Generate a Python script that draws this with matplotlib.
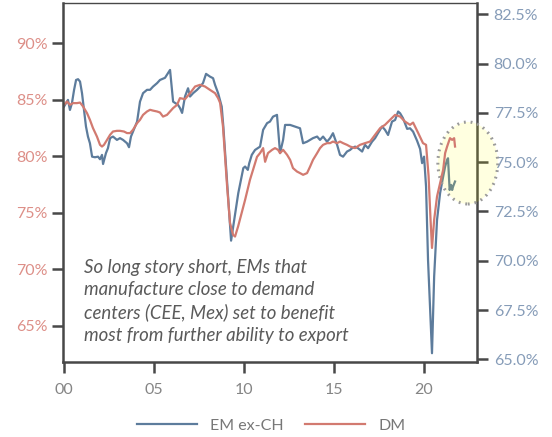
import matplotlib
matplotlib.use("Agg")
import matplotlib.pyplot as plt
from matplotlib.patches import Ellipse

plt.rcParams["font.family"] = ["Lato", "DejaVu Sans"]

# Capacity utilisation, % (time in years since 2000)
dm_t = [0.00, 0.17, 0.33, 0.50, 0.72, 0.89, 1.06, 1.28, 1.44, 1.61, 1.83, 2.00,
        2.11, 2.22, 2.39, 2.56, 2.72, 2.94, 3.11, 3.33, 3.50, 3.67, 3.83, 4.06,
        4.22, 4.39, 4.61, 4.78, 4.94, 5.17, 5.33, 5.50, 5.72, 5.89, 6.06, 6.28,
        6.44, 6.72, 7.00, 7.28, 7.56, 7.83, 8.11, 8.39, 8.56, 8.67, 8.83, 9.06,
        9.22, 9.39, 9.50, 9.67, 10.06, 10.33, 10.50, 10.72, 10.89, 11.06, 11.17,
        11.33, 11.56, 11.72, 11.89, 12.00, 12.17, 12.39, 12.56, 12.72, 12.94,
        13.11, 13.28, 13.50, 13.67, 13.83, 14.06, 14.22, 14.39, 14.61, 14.78,
        14.94, 15.17, 15.33, 15.50, 15.72, 15.89, 16.17, 16.44, 16.72, 17.00,
        17.28, 17.56, 17.83, 18.11, 18.39, 18.67, 18.94, 19.22, 19.39, 19.67,
        19.94, 20.11, 20.25, 20.36, 20.44, 20.56, 20.72, 20.89, 21.06, 21.17,
        21.28, 21.44, 21.56, 21.67, 21.72]
dm_val = [84.56, 84.85, 84.56, 84.71, 84.71, 84.76, 84.41, 83.82, 83.23, 82.50,
          81.75, 81.02, 80.87, 81.02, 81.46, 81.91, 82.20, 82.26, 82.26, 82.20,
          82.06, 82.06, 82.35, 82.94, 83.23, 83.67, 83.97, 84.12, 84.05, 83.97,
          83.88, 83.52, 83.67, 83.97, 84.27, 84.56, 85.15, 85.06, 85.59, 86.18,
          86.33, 86.18, 85.88, 85.59, 85.15, 84.73, 82.64, 77.33, 74.12, 73.06,
          72.91, 73.80, 76.16, 77.93, 78.81, 79.96, 80.29, 80.73, 79.52, 80.29,
          80.58, 80.73, 80.58, 80.29, 80.58, 80.14, 79.69, 78.96, 78.66, 78.52,
          78.37, 78.52, 79.10, 79.69, 80.29, 80.73, 81.02, 81.17, 81.17, 81.31,
          81.17, 81.31, 81.17, 81.02, 80.87, 80.73, 81.02, 81.17, 81.31, 81.91,
          82.50, 82.79, 83.23, 83.67, 83.52, 83.08, 82.79, 82.99, 82.08, 81.17,
          81.02, 78.28, 74.39, 71.90, 74.39, 76.45, 77.63, 78.81, 80.29, 80.87,
          81.61, 81.46, 81.61, 80.87]

em_t = [0.00, 0.11, 0.22, 0.33, 0.44, 0.56, 0.67, 0.78, 0.89, 1.00, 1.11, 1.22,
        1.33, 1.44, 1.56, 1.72, 1.89, 2.00, 2.11, 2.17, 2.33, 2.44, 2.56, 2.72,
        2.94, 3.11, 3.28, 3.50, 3.61, 3.72, 3.83, 4.06, 4.22, 4.39, 4.61, 4.78,
        4.94, 5.17, 5.33, 5.61, 5.89, 6.06, 6.33, 6.44, 6.56, 6.72, 6.89, 7.00,
        7.17, 7.39, 7.56, 7.72, 7.89, 8.11, 8.28, 8.39, 8.56, 8.76, 8.85, 9.28,
        9.68, 9.96, 10.06, 10.21, 10.29, 10.43, 10.61, 10.89, 11.06, 11.28,
        11.44, 11.61, 11.83, 12.00, 12.17, 12.28, 12.56, 12.94, 13.11, 13.28,
        13.50, 13.67, 13.83, 14.06, 14.22, 14.39, 14.61, 14.78, 14.94, 15.17,
        15.33, 15.50, 15.72, 15.89, 16.00, 16.17, 16.33, 16.56, 16.72, 16.89,
        17.11, 17.28, 17.44, 17.67, 17.83, 18.00, 18.22, 18.39, 18.56, 18.67,
        18.83, 19.06, 19.22, 19.39, 19.61, 19.78, 19.89, 20.00, 20.11, 20.22,
        20.44, 20.56, 20.72, 20.89, 21.06, 21.17, 21.28, 21.33, 21.42, 21.50,
        21.56, 21.61, 21.72]
em_val = [77.82, 77.99, 78.16, 77.65, 77.99, 78.67, 79.17, 79.21, 79.09, 78.50,
          77.65, 76.81, 76.30, 75.96, 75.28, 75.25, 75.28, 75.15, 75.37, 74.91,
          75.46, 75.71, 76.22, 76.30, 76.13, 76.22, 76.13, 75.96, 75.76, 76.30,
          76.55, 77.06, 78.07, 78.50, 78.67, 78.67, 78.83, 79.01, 79.17, 79.28,
          79.68, 78.07, 77.91, 77.75, 77.50, 78.33, 78.75, 78.33, 78.50, 78.67,
          78.83, 79.01, 79.48, 79.34, 79.26, 78.92, 78.50, 77.82, 76.81, 71.02,
          73.43, 74.70, 74.78, 74.61, 74.95, 75.37, 75.62, 75.79, 76.64, 76.98,
          77.06, 77.31, 77.40, 75.46, 76.13, 76.89, 76.89, 76.77, 76.72, 75.96,
          76.04, 76.13, 76.22, 76.30, 76.13, 76.30, 76.04, 76.22, 76.47, 75.88,
          75.37, 75.28, 75.54, 75.62, 75.71, 75.79, 75.71, 75.54, 75.88, 75.71,
          76.04, 76.22, 76.47, 76.81, 76.64, 76.38, 77.06, 77.14, 77.57, 77.48,
          77.23, 76.69, 76.72, 76.55, 76.09, 75.67, 74.95, 75.28, 73.76, 70.04,
          65.31, 69.20, 72.07, 73.43, 74.27, 74.78, 75.12, 75.20, 73.59, 73.85,
          73.59, 73.76, 74.02]

x_ticks = [0, 5, 10, 15, 20]
x_labels = ["00", "05", "10", "15", "20"]
left_ticks = [65, 70, 75, 80, 85, 90]
right_ticks = [65.0, 67.5, 70.0, 72.5, 75.0, 77.5, 80.0, 82.5]

BLUE = "#5d7c9c"
RED = "#d27a70"
SPINE = "#484848"

fig = plt.figure(figsize=(5.52, 4.37), dpi=100)
ax = fig.add_axes([63 / 552, 1 - 361.7 / 437, 414 / 552, 359.2 / 437])
ax2 = ax.twinx()
ax.set_zorder(ax2.get_zorder() + 1)
ax.patch.set_visible(False)

ax2.plot(em_t, em_val, color=BLUE, lw=1.6, label="EM ex-CH")
ax.plot(dm_t, dm_val, color=RED, lw=1.6, label="DM")

ax.set_xlim(-0.056, 22.94)
ax.set_ylim(61.84, 93.61)
ax2.set_ylim(64.88, 83.10)

ax.set_xticks(x_ticks)
ax.set_xticklabels(x_labels)
ax.set_yticks(left_ticks)
ax.set_yticklabels([f"{v}%" for v in left_ticks])
ax2.set_yticks(right_ticks)
ax2.set_yticklabels([f"{v:.1f}%" for v in right_ticks])

for s in ["left", "bottom"]:
    ax.spines[s].set_color(SPINE)
    ax.spines[s].set_linewidth(1.8)
ax.spines["top"].set_color(SPINE)
ax.spines["top"].set_linewidth(1.0)
ax.spines["right"].set_visible(False)
for s in ["left", "bottom", "top"]:
    ax2.spines[s].set_visible(False)
ax2.spines["right"].set_color(SPINE)
ax2.spines["right"].set_linewidth(1.8)

ax.tick_params(axis="y", colors=SPINE, labelcolor="#dd8f88", length=8,
               width=1.8, pad=3, labelsize=11.5)
ax.tick_params(axis="x", colors=SPINE, labelcolor="#858585", length=8,
               width=1.8, pad=7, labelsize=11.5)
ax2.tick_params(axis="y", colors=SPINE, labelcolor="#869cb8", length=8,
                width=1.8, pad=4, labelsize=11.5)

ax.text(0.05, 0.1676,
        "So long story short, EMs that\nmanufacture close to demand\n"
        "centers (CEE, Mex) set to benefit\nmost from further ability to export",
        transform=ax.transAxes, ha="left", va="center", fontsize=13.4,
        style="italic", color="#5a5a5a", linespacing=1.36)

# highlight the latest readings
ax2.add_patch(Ellipse((22.43, 74.96), 3.33, 4.16, facecolor=(1, 1, 0, 0.12),
                      edgecolor="#9a9a9a", lw=2.2, ls=(0, (0.6, 1.6)),
                      clip_on=False, zorder=10))

h1, l1 = ax2.get_legend_handles_labels()
h2, l2 = ax.get_legend_handles_labels()
leg = fig.legend(h1 + h2, l1 + l2, loc="center",
                 bbox_to_anchor=(271 / 552, 1 - 425.7 / 437),
                 ncol=2, frameon=False, fontsize=11.5, handlelength=3.8,
                 handletextpad=0.8, columnspacing=1.3)
for t in leg.get_texts():
    t.set_color("#777777")

fig.savefig("out.png", dpi=100)
